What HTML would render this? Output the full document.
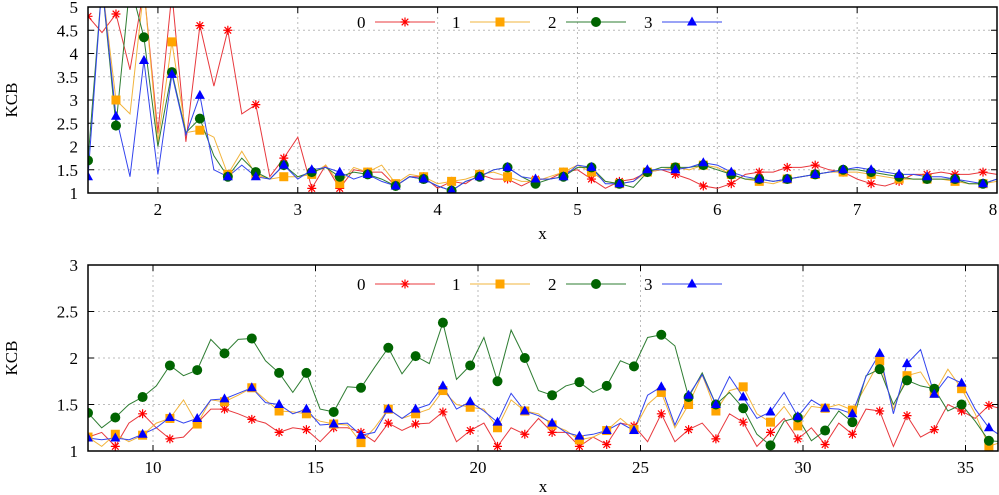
<!DOCTYPE html>
<html><head><meta charset="utf-8">
<style>
html,body{margin:0;padding:0;background:#fff;}
svg{display:block;font-family:"Liberation Serif",serif;}
</style></head>
<body>
<svg id="chart" width="999" height="495" xmlns="http://www.w3.org/2000/svg"></svg>
<script>
// ---- data: top panel (x = 1.5 .. 8, step 0.1)
const topX0 = 1.5, topStep = 0.1;
const topS0 = [4.8,4.45,4.85,3.65,5.4,2.3,5.3,2.1,4.6,3.3,4.5,2.7,2.9,1.35,1.75,2.2,1.1,1.6,1.1,1.5,1.45,1.45,1.15,1.35,1.35,1.1,1.25,1.2,1.4,1.3,1.3,1.15,1.3,1.3,1.45,1.5,1.3,1.1,1.25,1.3,1.45,1.5,1.4,1.3,1.15,1.1,1.2,1.4,1.45,1.45,1.55,1.55,1.6,1.5,1.45,1.3,1.2,1.15,1.25,1.4,1.4,1.45,1.4,1.4,1.45,1.4];
const topS1 = [5.5,5.5,3.0,2.7,5.4,2.1,4.25,2.3,2.35,2.2,1.4,1.9,1.4,1.3,1.35,1.35,1.4,1.6,1.2,1.55,1.45,1.6,1.2,1.4,1.35,1.2,1.25,1.3,1.4,1.45,1.35,1.25,1.25,1.35,1.45,1.6,1.45,1.25,1.2,1.25,1.45,1.5,1.55,1.5,1.6,1.55,1.4,1.3,1.25,1.2,1.3,1.35,1.4,1.45,1.45,1.45,1.4,1.35,1.3,1.3,1.3,1.3,1.25,1.2,1.2,1.25];
const topS2 = [1.7,5.5,2.45,5.5,4.35,2.0,3.6,2.3,2.6,1.8,1.35,1.75,1.45,1.3,1.6,1.35,1.45,1.55,1.35,1.45,1.4,1.3,1.15,1.35,1.3,1.15,1.05,1.25,1.35,1.5,1.55,1.35,1.2,1.3,1.35,1.55,1.55,1.25,1.2,1.12,1.45,1.55,1.55,1.55,1.6,1.5,1.4,1.3,1.3,1.25,1.3,1.35,1.4,1.45,1.5,1.5,1.45,1.4,1.35,1.3,1.3,1.3,1.3,1.2,1.2,1.3];
const topS3 = [1.35,5.5,2.65,1.35,3.85,1.4,3.55,2.25,3.1,1.5,1.35,1.6,1.35,1.3,1.6,1.3,1.5,1.55,1.45,1.3,1.4,1.25,1.15,1.35,1.3,1.15,1.05,1.25,1.35,1.5,1.55,1.35,1.3,1.3,1.35,1.6,1.55,1.2,1.2,1.25,1.5,1.5,1.5,1.55,1.65,1.6,1.45,1.35,1.3,1.25,1.3,1.35,1.4,1.45,1.5,1.55,1.5,1.45,1.4,1.4,1.35,1.35,1.3,1.25,1.2,1.3];
const topYTicks = [1,1.5,2,2.5,3,3.5,4,4.5,5];
const topYLabels = ["1","1.5","2","2.5","3","3.5","4","4.5","5"];
const topXTicks = [2,3,4,5,6,7,8];
// ---- data: bottom panel (x = 8 .. , step 0.42)
const botX0 = 8, botStep = 0.42;
const botS0 = [1.15,1.2,1.05,1.3,1.4,1.25,1.13,1.15,1.3,1.45,1.45,1.4,1.34,1.3,1.2,1.25,1.23,1.1,1.25,1.25,1.2,1.1,1.3,1.22,1.29,1.3,1.42,1.1,1.22,1.3,1.05,1.25,1.18,1.35,1.2,1.2,1.05,1.15,1.07,1.3,1.27,1.1,1.4,1.1,1.23,1.3,1.13,1.4,1.31,1.05,1.2,1.35,1.13,1.25,1.07,1.3,1.18,1.45,1.43,1.05,1.38,1.15,1.23,1.5,1.43,1.35,1.49,1.45];
const botS1 = [1.15,1.05,1.18,1.1,1.17,1.3,1.35,1.55,1.29,1.55,1.53,1.6,1.68,1.55,1.43,1.42,1.4,1.32,1.29,1.28,1.09,1.25,1.45,1.35,1.4,1.45,1.65,1.5,1.47,1.45,1.25,1.55,1.43,1.4,1.28,1.22,1.12,1.15,1.22,1.35,1.23,1.5,1.63,1.25,1.5,1.82,1.43,1.65,1.69,1.4,1.31,1.48,1.27,1.48,1.46,1.5,1.44,1.7,1.97,1.45,1.81,1.85,1.62,1.88,1.67,1.4,1.05,1.1];
const botS2 = [1.41,1.25,1.36,1.5,1.58,1.7,1.92,1.81,1.87,2.2,2.05,2.2,2.21,1.97,1.84,1.63,1.84,1.45,1.42,1.69,1.68,1.9,2.11,1.83,2.02,1.94,2.38,1.77,1.92,2.22,1.75,2.3,2.0,1.65,1.6,1.7,1.74,1.63,1.70,1.97,1.91,2.22,2.25,2.13,1.58,1.84,1.5,1.63,1.46,1.18,1.06,1.32,1.36,1.11,1.22,1.43,1.31,1.81,1.88,1.5,1.76,1.7,1.67,1.43,1.5,1.32,1.11,1.1];
const botS3 = [1.14,1.12,1.14,1.12,1.18,1.25,1.36,1.3,1.35,1.55,1.56,1.62,1.68,1.52,1.5,1.4,1.45,1.28,1.29,1.3,1.17,1.2,1.45,1.35,1.45,1.5,1.7,1.45,1.53,1.43,1.31,1.62,1.43,1.38,1.3,1.2,1.16,1.18,1.22,1.3,1.22,1.6,1.69,1.28,1.6,1.82,1.5,1.8,1.58,1.35,1.42,1.63,1.37,1.55,1.46,1.45,1.4,1.8,2.05,1.4,1.94,2.09,1.61,1.8,1.73,1.45,1.25,1.15];
const botYTicks = [1,1.5,2,2.5,3];
const botYLabels = ["1","1.5","2","2.5","3"];
const botXTicks = [10,15,20,25,30,35];
const seriesNames = ["0","1","2","3"];

const NS = "http://www.w3.org/2000/svg";
const svg = document.getElementById('chart');
const colors = ["#ff0000","#ffa500","#006400","#0000ff"];
const lineColors = ["#e8383d","#f2b43c","#2e7d32","#3344ee"];
function mk(tag, attrs, parent){const e=document.createElementNS(NS,tag);for(const k in attrs)e.setAttribute(k,attrs[k]);(parent||svg).appendChild(e);return e;}

function marker(g, type, x, y){
  let m;
  if(type===0){
    m=mk('path',{d:`M${x-4.5},${y}H${x+4.5}M${x},${y-4.5}V${y+4.5}M${x-3.3},${y-3.3}L${x+3.3},${y+3.3}M${x-3.3},${y+3.3}L${x+3.3},${y-3.3}`,stroke:colors[0],'stroke-width':1.2,fill:'none'},g);
  } else if(type===1){
    m=mk('rect',{x:x-4.5,y:y-4.5,width:9,height:9,fill:colors[1]},g);
  } else if(type===2){
    m=mk('circle',{cx:x,cy:y,r:5,fill:colors[2]},g);
  } else {
    m=mk('path',{d:`M${x},${y-5.5}L${x+5},${y+3.5}L${x-5},${y+3.5}Z`,fill:colors[3]},g);
  }
  
  
}

function panel(cfg){
  const {name,L,R,T,B,xmin,xmax,ymin,ymax,yt,yl,xt,x0,step,series,legendY,xlabelY,ylabelY} = cfg;
  const sx=v=>L+(v-xmin)/(xmax-xmin)*(R-L);
  const sy=v=>B-(v-ymin)/(ymax-ymin)*(B-T);
  const g=mk('g',{});
  
  
  // grid
  yt.forEach((v,i)=>{
    if(v!==ymin && v!==ymax){
      const l=mk('line',{x1:L,x2:R,y1:sy(v),y2:sy(v),stroke:'#bbb','stroke-dasharray':'2,3','stroke-width':1},g);
      
      
    }
    mk('line',{x1:L,x2:L+6,y1:sy(v),y2:sy(v),stroke:'#000'},g);
    mk('line',{x1:R,x2:R-6,y1:sy(v),y2:sy(v),stroke:'#000'},g);
    const t=mk('text',{x:L-10,y:sy(v)+6,'text-anchor':'end','font-size':17},g);
    t.textContent=yl[i];
    
    
  });
  xt.forEach(v=>{
    const x=sx(v);
    if(x<R-1){
      const l=mk('line',{x1:x,x2:x,y1:T,y2:B,stroke:'#bbb','stroke-dasharray':'2,3','stroke-width':1},g);
      
      
    }
    mk('line',{x1:x,x2:x,y1:B,y2:B-6,stroke:'#000'},g);
    mk('line',{x1:x,x2:x,y1:T,y2:T+6,stroke:'#000'},g);
    const t=mk('text',{x:Math.min(x,R-4),y:B+22,'text-anchor':'middle','font-size':17},g);
    t.textContent=String(v);
    
    
  });
  // clip
  const cid='clip-'+name;
  const cp=mk('clipPath',{id:cid},g);
  mk('rect',{x:L,y:T,width:R-L,height:B-T},cp);
  const dg=mk('g',{'clip-path':`url(#${cid})`},g);
  
  
  series.forEach((arr,si)=>{
    const pts=arr.map((v,i)=>`${sx(x0+i*step).toFixed(1)},${sy(v).toFixed(1)}`).join(' ');
    const pl=mk('polyline',{points:pts,fill:'none',stroke:lineColors[si],'stroke-width':1},dg);
    
    
  });
  series.forEach((arr,si)=>{
    arr.forEach((v,i)=>{ if(i%2===0) marker(dg,si,sx(x0+i*step),sy(v)); });
  });
  // frame
  const fr=mk('rect',{x:L,y:T,width:R-L,height:B-T,fill:'none',stroke:'#000','stroke-width':1.5},g);
  
  
  // legend
  const lx=[357,452,548,644];
  seriesNames.forEach((n,i)=>{
    const lg=mk('g',{},g);
    
    
    const t=mk('text',{x:lx[i],y:legendY+6,'font-size':17},lg);
    t.textContent=n;
    mk('line',{x1:lx[i]+18,x2:lx[i]+78,y1:legendY,y2:legendY,stroke:lineColors[i],'stroke-width':1},lg);
    marker(lg,i,lx[i]+48,legendY);
  });
  const xl=mk('text',{x:(L+R)/2,y:xlabelY,'text-anchor':'middle','font-size':17},g);
  xl.textContent='x';
  
  
  const yl2=mk('text',{x:0,y:0,'text-anchor':'middle','font-size':17,transform:`translate(17,${ylabelY}) rotate(-90)`},g);
  yl2.textContent='KCB';
  
  
}

panel({name:'top-panel',L:88,R:997,T:7,B:193,xmin:1.5,xmax:8,ymin:1,ymax:5,yt:topYTicks,yl:topYLabels,xt:topXTicks,x0:topX0,step:topStep,series:[topS0,topS1,topS2,topS3],legendY:22,xlabelY:239,ylabelY:100});
panel({name:'bottom-panel',L:88,R:998,T:265,B:451,xmin:8,xmax:36,ymin:1,ymax:3,yt:botYTicks,yl:botYLabels,xt:botXTicks,x0:botX0,step:botStep,series:[botS0,botS1,botS2,botS3],legendY:284,xlabelY:492,ylabelY:358});
</script>
</body></html>
